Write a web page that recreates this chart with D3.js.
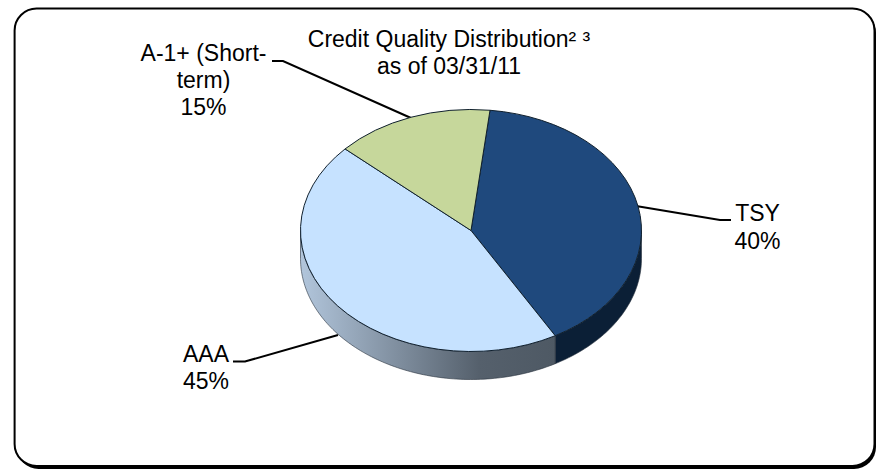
<!DOCTYPE html>
<html>
<head>
<meta charset="utf-8">
<script src="https://cdn.jsdelivr.net/npm/d3@7"></script>
<style>
    html, body { margin: 0; padding: 0; background: #ffffff; }
    text { font-family: "Liberation Sans", Arial, sans-serif; font-size: 23px; fill: #000000; }
</style>
</head>
<body>
<div id="container"></div>
<script>
const categories = ["TSY", "AAA", "A-1+ (Short-term)"];
const shares = [40, 45, 15];
const topColors = ["#1f497d", "#c6e2ff", "#c6d79b"];
const titleLines = ["Credit Quality Distribution² ³", "as of 03/31/11"];

const width = 876, height = 470;
const cx = 471, cy = 230.5, rx = 170.5, ry = 121, depth = 28;
const squash = ry / rx;
const startAngle = 6.4 * Math.PI / 180;

const svg = d3.select("#container").append("svg")
    .attr("width", width)
    .attr("height", height)
    .style("display", "block");

const defs = svg.append("defs");

const aaaWall = defs.append("linearGradient")
    .attr("id", "aaaWall")
    .attr("gradientUnits", "userSpaceOnUse")
    .attr("x1", 300).attr("x2", 556).attr("y1", 0).attr("y2", 0);
aaaWall.append("stop").attr("offset", "0%").attr("stop-color", "#b2c6dc");
aaaWall.append("stop").attr("offset", "70%").attr("stop-color", "#55606c");
aaaWall.append("stop").attr("offset", "100%").attr("stop-color", "#4e5964");

// frame with its shadow on the lower right
svg.append("rect")
    .attr("x", 16.6).attr("y", 11).attr("width", 859.4).attr("height", 458)
    .attr("rx", 22).attr("fill", "#000000");
svg.append("rect")
    .attr("x", 14.6).attr("y", 8.6).attr("width", 859.9).attr("height", 457.4)
    .attr("rx", 22).attr("fill", "#ffffff")
    .attr("stroke", "#000000").attr("stroke-width", 2);

const pie = d3.pie().sort(null).value(d => d).startAngle(startAngle).endAngle(startAngle + 2 * Math.PI);
const slices = pie(shares);

// leader lines, under the pie
const leaders = [
    [[272, 61], [283, 61], [411, 118]],
    [[636, 206], [720, 220], [731, 220]],
    [[233, 361.5], [245, 361.5], [338, 335]]
];
svg.append("g").selectAll("path")
    .data(leaders)
    .join("path")
    .attr("d", d3.line())
    .attr("fill", "none")
    .attr("stroke", "#000000")
    .attr("stroke-width", 2);

// side wall of the visible front half
const wallColors = ["#0b1f36", "url(#aaaWall)"];
function wallPath(a0, a1) {
    const from = Math.max(a0, Math.PI / 2), to = Math.min(a1, 3 * Math.PI / 2);
    const p = d3.path();
    const pt = (a, dy) => [cx + rx * Math.sin(a), cy + dy - ry * Math.cos(a)];
    const steps = d3.range(from, to, 0.02).concat(to);
    steps.forEach((a, i) => { const q = pt(a, 0); i ? p.lineTo(q[0], q[1]) : p.moveTo(q[0], q[1]); });
    steps.slice().reverse().forEach(a => { const q = pt(a, depth); p.lineTo(q[0], q[1]); });
    p.closePath();
    return p.toString();
}
svg.append("g").selectAll("path")
    .data(slices.slice(0, 2))
    .join("path")
    .attr("d", d => wallPath(d.startAngle, d.endAngle))
    .attr("fill", (d, i) => wallColors[i])
    .attr("stroke", "#26313c")
    .attr("stroke-width", 0.6);

// top of the pie
const arc = d3.arc().innerRadius(0).outerRadius(rx);
svg.append("g")
    .attr("transform", `translate(${cx},${cy}) scale(1,${squash})`)
    .selectAll("path")
    .data(slices)
    .join("path")
    .attr("d", arc)
    .attr("fill", (d, i) => topColors[i])
    .attr("stroke", "#10202e")
    .attr("stroke-width", 1)
    .attr("vector-effect", "non-scaling-stroke");

function block(lines, x, y, step) {
    svg.append("text")
        .attr("text-anchor", "middle")
        .selectAll("tspan")
        .data(lines)
        .join("tspan")
        .attr("x", x)
        .attr("y", (d, i) => y + i * step)
        .text(d => d);
}

block(titleLines, 449, 47, 27);
block(["A-1+ (Short-", "term)", `${shares[2]}%`], 203.5, 60.5, 27);
block([categories[0], `${shares[0]}%`], 757.5, 221, 27.5);
block([categories[1], `${shares[1]}%`], 206, 361.5, 27.5);
</script>
</body>
</html>
